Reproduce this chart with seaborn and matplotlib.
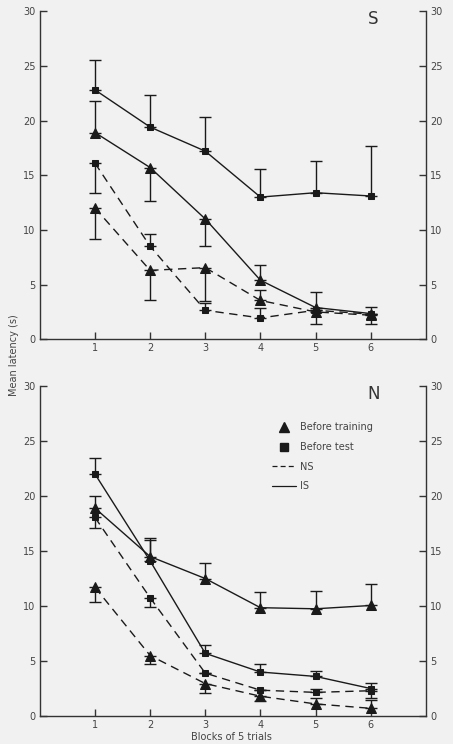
import numpy as np
import matplotlib
matplotlib.use("Agg")
import matplotlib.pyplot as plt
import seaborn as sns
from matplotlib.lines import Line2D

blocks = [1, 2, 3, 4, 5, 6]

# panel S: means and the end value of each error bar
s_is_test = [22.8, 19.4, 17.2, 13.0, 13.4, 13.1]
s_is_test_err = [25.5, 22.3, 20.3, 15.6, 16.3, 17.7]
s_is_train = [18.9, 15.7, 11.0, 5.4, 2.9, 2.35]
s_is_train_err = [21.8, 12.6, 8.5, 6.8, 4.3, 2.95]
s_ns_test = [16.1, 8.5, 2.65, 1.95, 2.65, 2.3]
s_ns_test_err = [13.4, 9.6, 3.3, 2.85, 2.65, 2.3]
s_ns_train = [12.0, 6.3, 6.55, 3.55, 2.5, 2.2]
s_ns_train_err = [9.2, 3.6, 3.5, 4.5, 1.4, 1.4]

# panel N
n_is_test = [22.0, 14.1, 5.7, 4.0, 3.6, 2.5]
n_is_test_err = [23.5, 16.2, 6.5, 4.75, 4.1, 3.0]
n_is_train = [18.9, 14.5, 12.5, 9.85, 9.75, 10.05]
n_is_train_err = [20.0, 16.0, 13.9, 11.3, 11.4, 12.0]
n_ns_test = [18.05, 10.75, 3.9, 2.35, 2.15, 2.3]
n_ns_test_err = [17.1, 9.9, 3.9, 2.35, 2.5, 1.6]
n_ns_train = [11.7, 5.5, 2.95, 1.8, 1.1, 0.7]
n_ns_train_err = [10.4, 4.7, 2.05, 1.35, 1.6, 1.45]

bg = "#f1f1f1"
ink = "#1a1a1a"
sns.set_style("ticks")
plt.rcParams["font.family"] = ["DejaVu Sans"]

fig = plt.figure(figsize=(4.53, 7.44), dpi=100, facecolor=bg)
ax_s = fig.add_axes([0.088, 0.544, 0.852, 0.441])
ax_n = fig.add_axes([0.088, 0.0376, 0.852, 0.4435])

dash = (6, 4)


def draw_series(ax, means, ends, marker, ms, dashed):
    n_before = len(ax.lines)
    sns.lineplot(x=blocks, y=means, ax=ax, color=ink, lw=1.0,
                 marker=marker, markersize=ms, markeredgecolor=ink,
                 markerfacecolor=ink, legend=False)
    if dashed:
        for ln in ax.lines[n_before:]:
            ln.set_linestyle((0, dash))
    m = np.array(means)
    e = np.array(ends)
    lower = np.clip(m - e, 0, None)
    upper = np.clip(e - m, 0, None)
    ax.errorbar(blocks, m, yerr=[lower, upper], fmt="none", ecolor=ink,
                elinewidth=1.0, capsize=4, capthick=1.0)


panels = [
    (ax_s, "S", [(s_is_test, s_is_test_err, "s", False),
                 (s_is_train, s_is_train_err, "^", False),
                 (s_ns_test, s_ns_test_err, "s", True),
                 (s_ns_train, s_ns_train_err, "^", True)]),
    (ax_n, "N", [(n_is_test, n_is_test_err, "s", False),
                 (n_is_train, n_is_train_err, "^", False),
                 (n_ns_test, n_ns_test_err, "s", True),
                 (n_ns_train, n_ns_train_err, "^", True)]),
]

for ax, letter, series in panels:
    ax.set_facecolor(bg)
    for means, ends, mk, dashed in series:
        draw_series(ax, means, ends, mk, 5 if mk == "s" else 6.5, dashed)
    ax.set_xlim(0, 7)
    ax.set_ylim(0, 30)
    ax.set_xticks(blocks)
    ax.set_yticks([0, 5, 10, 15, 20, 25, 30])
    ax.spines["top"].set_visible(False)
    for sp in ["left", "right", "bottom"]:
        ax.spines[sp].set_visible(True)
        ax.spines[sp].set_color("#333333")
        ax.spines[sp].set_linewidth(1.0)
    ax.tick_params(axis="both", direction="in", length=5, width=1.0,
                   colors="#333333", labelsize=7, labelcolor="#444444", pad=3)
    ax.tick_params(axis="y", right=True, labelright=True)
    ax.text(6.05, 29.3, letter, fontsize=12, color="#333333", ha="center", va="center")

handles = [
    Line2D([], [], color=ink, marker="^", markersize=7, linestyle="none"),
    Line2D([], [], color=ink, marker="s", markersize=6, linestyle="none"),
    Line2D([], [], color=ink, lw=0.9, linestyle=(0, (4, 2.5))),
    Line2D([], [], color=ink, lw=0.9),
]
leg = ax_n.legend(handles, ["Before training", "Before test", "NS", "IS"],
                  loc="upper left", bbox_to_anchor=(0.59, 0.905), frameon=False,
                  fontsize=7, handlelength=2.4, handletextpad=0.4,
                  labelspacing=1.0, borderpad=0)
for t in leg.get_texts():
    t.set_color("#444444")

fig.text(0.031, 0.523, "Mean latency (s)", rotation=90, fontsize=7,
         color="#444444", ha="center", va="center")
fig.text(0.51, 0.003, "Blocks of 5 trials", fontsize=7, color="#444444",
         ha="center", va="bottom")

fig.savefig("out.png", dpi=100, facecolor=bg)
